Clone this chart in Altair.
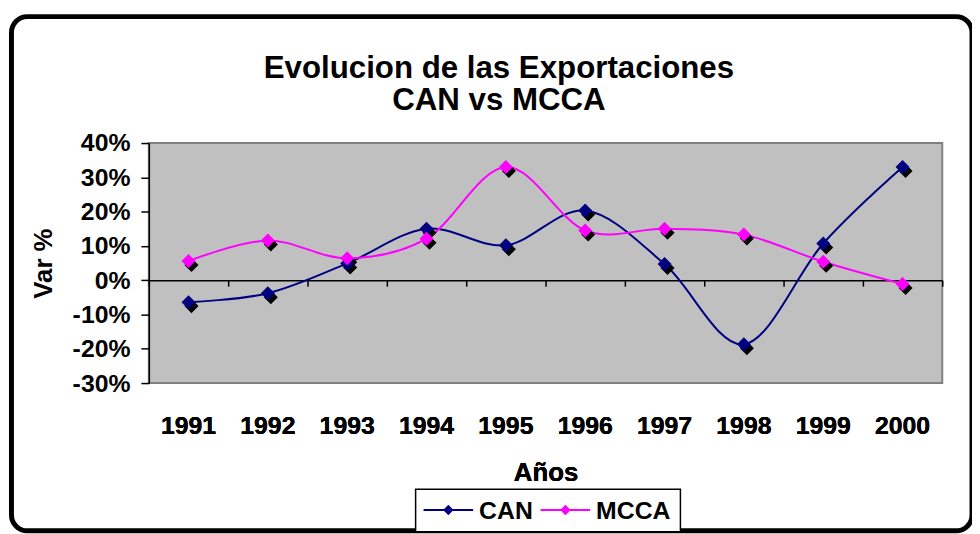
import altair as alt
import pandas as pd

years = ["1991", "1992", "1993", "1994", "1995", "1996", "1997", "1998", "1999", "2000"]
can = [-6.4, -3.8, 4.9, 15.0, 10.2, 20.3, 4.7, -18.7, 10.7, 33.0]
mcca = [5.6, 11.6, 6.4, 12.1, 33.0, 14.5, 15.0, 13.3, 5.4, -1.1]
series = ["CAN", "MCCA"]
colors = ["#000080", "#FF00FF"]
y_ticks = [-30, -20, -10, 0, 10, 20, 30, 40]

df = pd.DataFrame({
    "Año": years * 2,
    "Serie": ["CAN"] * len(years) + ["MCCA"] * len(years),
    "Var": can + mcca,
})

FONT = "Liberation Sans"

xscale = alt.Scale(type="band", paddingInner=0, paddingOuter=0)
yscale = alt.Scale(domain=[-30, 40], nice=False, zero=False)
sscale = alt.Scale(domain=series, range=colors)

x_lab = alt.X("Año:O", sort=years, scale=xscale,
              axis=alt.Axis(orient="bottom", title="Años", domain=False, ticks=False,
                            tickSize=0, labelPadding=31, labelAngle=0,
                            labelFont=FONT, labelFontSize=25, labelFontWeight="bold",
                            labelColor="black", titleFont=FONT, titleFontSize=26,
                            titleFontWeight="bold", titleColor="black", titlePadding=21))
x_zero = alt.X("Año:O", sort=years, scale=xscale,
               axis=alt.Axis(orient="bottom", title=None, labels=False, offset=-103.7,
                             domain=True, domainColor="black", domainWidth=1.5,
                             ticks=True, tickBand="extent", tickSize=6,
                             tickColor="black", tickWidth=1.5))
y_enc = alt.Y("Var:Q", scale=yscale,
              axis=alt.Axis(values=y_ticks, labelExpr="datum.value + '%'", grid=False,
                            domainColor="black", domainWidth=1.5, tickColor="black",
                            tickWidth=1.5, tickSize=8, labelPadding=11,
                            labelFont=FONT, labelFontSize=25, labelFontWeight="bold",
                            labelColor="black", title="Var %", titleFont=FONT,
                            titleFontSize=26, titleFontWeight="bold", titleColor="black",
                            titlePadding=16))

base = alt.Chart(df)
one = pd.DataFrame({"k": [0]})

frame = alt.Chart(one).mark_rect(
    fillOpacity=0, stroke="black", strokeWidth=5, cornerRadius=16
).encode(x=alt.value(-138.5), x2=alt.value(830), y=alt.value(-127.5), y2=alt.value(391))

zero = base.mark_point(opacity=0).encode(x=x_zero)

lines = base.mark_line(interpolate="cardinal", strokeWidth=2).encode(
    x=x_lab, y=y_enc, stroke=alt.Stroke("Serie:N", scale=sscale, legend=None))

shadow = base.mark_point(shape="diamond", filled=True, size=200, opacity=1,
                         color="black", xOffset=3, yOffset=4).encode(x=x_lab, y=y_enc)

points = base.mark_point(shape="diamond", filled=True, size=200, opacity=1).encode(
    x=x_lab, y=y_enc, color=alt.Color("Serie:N", scale=sscale, legend=None))

# legend drawn as a boxed key below the axis title
leg_box = alt.Chart(one).mark_rect(fill="white", stroke="black", strokeWidth=1.5).encode(
    x=alt.value(269), x2=alt.value(536), y=alt.value(349), y2=alt.value(392))
leg_layers = [leg_box]
leg_x = [277, 395]
LEG_Y = 370
for i, s in enumerate(series):
    d = pd.DataFrame({"Serie": [s]})
    x0 = leg_x[i]
    leg_layers.append(alt.Chart(d).mark_rule(strokeWidth=2).encode(
        x=alt.value(x0), x2=alt.value(x0 + 50), y=alt.value(LEG_Y),
        color=alt.Color("Serie:N", scale=sscale, legend=None)))
    leg_layers.append(alt.Chart(d).mark_point(shape="diamond", filled=True, size=110,
                                              opacity=1).encode(
        x=alt.value(x0 + 25), y=alt.value(LEG_Y),
        color=alt.Color("Serie:N", scale=sscale, legend=None)))
    leg_layers.append(alt.Chart(d).mark_text(align="left", baseline="middle", font=FONT,
                                             fontSize=25, fontWeight="bold",
                                             color="black").encode(
        x=alt.value(x0 + 56), y=alt.value(LEG_Y + 1), text="Serie:N"))

chart = alt.layer(frame, zero, lines, shadow, points, *leg_layers).resolve_axis(
    x="independent").properties(
    width=800, height=242,
    autosize=alt.AutoSizeParams(type="none"),
    padding={"left": 142, "top": 134, "right": 30, "bottom": 150},
    background="white",
    title=alt.TitleParams(text=["Evolucion de las Exportaciones", "CAN vs MCCA"],
                          font=FONT, fontSize=31.5, fontWeight="bold", color="black",
                          anchor="middle", frame="group", lineHeight=32, offset=-103, dx=-47),
).configure_view(fill="#C0C0C0", stroke="#808080", strokeWidth=2)

chart.save("out.html", embed_options={"renderer": "svg", "actions": False})
